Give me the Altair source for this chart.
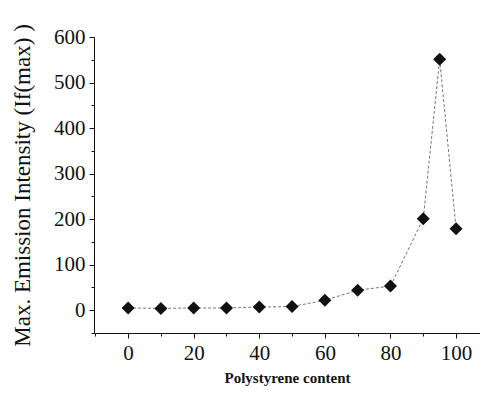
import altair as alt
import pandas as pd

content = [0, 10, 20, 30, 40, 50, 60, 70, 80, 90, 95, 100]
intensity = [5, 4, 5, 5, 7, 8, 22, 44, 53, 201, 551, 179]

x_ticks = [-10, 0, 10, 20, 30, 40, 50, 60, 70, 80, 90, 100, 110]
y_ticks = [-50, 0, 50, 100, 150, 200, 250, 300, 350, 400, 450, 500, 550, 600]

df = pd.DataFrame({"content": content, "intensity": intensity})

FONT = "Liberation Serif"

x_enc = alt.X(
    "content:Q",
    scale=alt.Scale(domain=[-10.4, 107.3], nice=False, zero=False),
    axis=alt.Axis(
        values=x_ticks,
        labelExpr="datum.value % 20 === 0 && datum.value >= 0 && datum.value <= 100 ? datum.label : ''",
        tickSize={"condition": {"test": "datum.value % 20 === 0", "value": 5}, "value": 3},
        title="Polystyrene content",
        titleFont=FONT,
        titleFontSize=15,
        titleFontWeight="bold",
        titleColor="#111",
        titlePadding=7,
        labelFont=FONT,
        labelFontSize=21,
        labelColor="#111",
        labelPadding=4,
        domainColor="#111",
        tickColor="#111",
        grid=False,
    ),
)

y_enc = alt.Y(
    "intensity:Q",
    scale=alt.Scale(domain=[-50, 600], nice=False, zero=False),
    axis=alt.Axis(
        values=y_ticks,
        labelExpr="datum.value % 100 === 0 && datum.value >= 0 ? datum.label : ''",
        tickSize={"condition": {"test": "datum.value % 100 === 0", "value": 5}, "value": 3},
        title="Max. Emission Intensity (If(max) )",
        titleFont=FONT,
        titleFontSize=23,
        titleFontWeight="normal",
        titleColor="#111",
        titlePadding=19,
        labelFont=FONT,
        labelFontSize=21,
        labelColor="#111",
        labelPadding=4,
        domainColor="#111",
        tickColor="#111",
        grid=False,
    ),
)

base = alt.Chart(df).encode(x=x_enc, y=y_enc)

line = base.mark_line(color="#666", strokeWidth=0.9, strokeDash=[3, 2])
pts = base.mark_point(shape="diamond", filled=True, size=170, color="#111", opacity=1)

chart = (
    alt.layer(line, pts)
    .properties(
        width=386,
        height=296,
        autosize=alt.AutoSizeParams(type="none"),
        padding={"left": 86, "top": 29, "right": 0, "bottom": 58},
        background="white",
    )
    .configure_view(stroke=None)
)

chart.save("out.html", embed_options={"renderer": "svg", "actions": False})
